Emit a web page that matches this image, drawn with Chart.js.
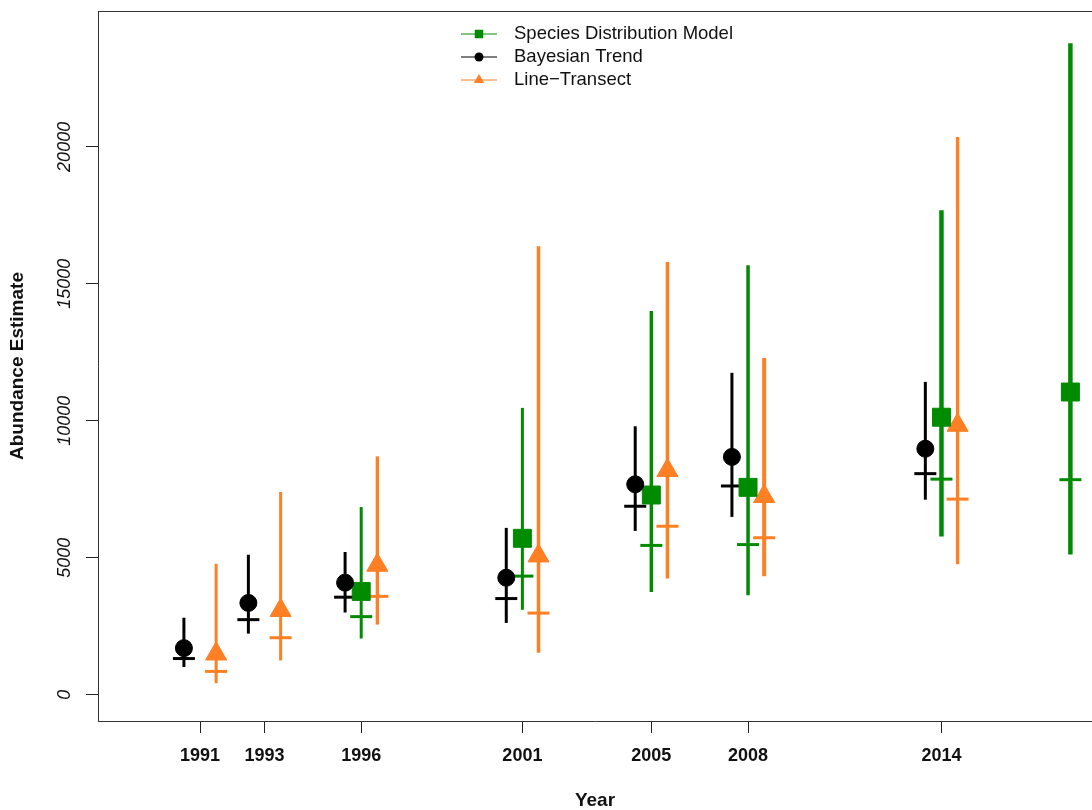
<!DOCTYPE html>
<html>
<head>
<meta charset="utf-8">
<script src="https://cdn.jsdelivr.net/npm/chart.js@4.4.0/dist/chart.umd.min.js"></script>
<style>
  html, body { margin: 0; padding: 0; background: #fff; }
  #wrap { width: 1092px; height: 810px; }
</style>
</head>
<body>
<div id="wrap"><canvas id="abundanceChart" width="1092" height="810"></canvas></div>
<script>
// values
const seriesNames = ["Species Distribution Model", "Bayesian Trend", "Line\u2212Transect"];
const xTickYears = [1991, 1993, 1996, 2001, 2005, 2008, 2014];
const yTickValues = [0, 5000, 10000, 15000, 20000];

const btYears = [1991, 1993, 1996, 2001, 2005, 2008, 2014];
const btMean = [1700, 3350, 4090, 4270, 7680, 8680, 8980];
const btMedian = [1320, 2740, 3560, 3510, 6880, 7620, 8070];
const btLower = [1010, 2230, 3000, 2620, 5980, 6490, 7120];
const btUpper = [2810, 5110, 5210, 6090, 9800, 11750, 11420];

const sdmYears = [1996, 2001, 2005, 2008, 2014, 2018];
const sdmMean = [3770, 5710, 7290, 7570, 10130, 11050];
const sdmMedian = [2850, 4330, 5450, 5480, 7870, 7850];
const sdmLower = [2050, 3100, 3750, 3630, 5780, 5120];
const sdmUpper = [6850, 10470, 14010, 15680, 17690, 23780];

const ltYears = [1991, 1993, 1996, 2001, 2005, 2008, 2014];
const ltMean = [1490, 3080, 4730, 5070, 8190, 7240, 9840];
const ltMedian = [850, 2080, 3590, 2980, 6150, 5730, 7140];
const ltLower = [420, 1250, 2560, 1530, 4240, 4320, 4760];
const ltUpper = [4780, 7400, 8700, 16370, 15800, 12290, 20360];

// styling
const GREEN = "#008B00";
const BLACK = "#000000";
const ORANGE = "#FF7F24";
const FONT = "'Liberation Sans', Arial, sans-serif";
const btWidths = [3, 3, 3, 3, 3, 3, 3];
const sdmWidths = [3, 3, 3.5, 3.5, 4.5, 4.5];
const ltWidths = [3, 3, 3.3, 3.5, 3.5, 4, 3.3];

function barPoints(xs, lo, hi, shift) {
  const pts = [];
  for (let i = 0; i < xs.length; i++) {
    pts.push({ x: xs[i] + shift, y: lo[i] });
    pts.push({ x: xs[i] + shift, y: hi[i] });
    pts.push({ x: xs[i] + shift, y: null });
  }
  return pts;
}

function pointsOf(xs, ys, shift) {
  return xs.map((x, i) => ({ x: x + shift, y: ys[i] }));
}

function barDataset(xs, lo, hi, shift, color, widths) {
  return {
    type: "line",
    data: barPoints(xs, lo, hi, shift),
    borderColor: color,
    borderWidth: 3,
    pointRadius: 0,
    showLine: true,
    spanGaps: false,
    order: 3,
    segment: {
      borderWidth: (ctx) => widths[Math.floor(ctx.p0DataIndex / 3)],
    },
  };
}

function medianDataset(xs, ys, shift, color) {
  return {
    data: pointsOf(xs, ys, shift),
    pointStyle: "line",
    pointRadius: 11,
    pointBorderWidth: 3,
    pointBorderColor: color,
    pointBackgroundColor: color,
    order: 2,
  };
}

function meanDataset(xs, ys, shift, color, style, radius) {
  return {
    data: pointsOf(xs, ys, shift),
    pointStyle: style,
    pointRadius: radius,
    pointBorderWidth: 1,
    pointBorderColor: color,
    pointBackgroundColor: color,
    order: 1,
  };
}

const frame = {
  id: "frame",
  afterDraw(chart) {
    const ctx = chart.ctx;
    const area = chart.chartArea;
    const yScale = chart.scales.y;
    ctx.save();
    // top border of the plot box
    ctx.strokeStyle = "#333";
    ctx.lineWidth = 1;
    ctx.beginPath();
    ctx.moveTo(area.left, area.top + 0.5);
    ctx.lineTo(area.right, area.top + 0.5);
    ctx.stroke();
    // rotated italic y tick labels
    ctx.fillStyle = "#111";
    ctx.font = "italic 18px " + FONT;
    ctx.textAlign = "center";
    ctx.textBaseline = "middle";
    for (const t of yScale.ticks) {
      const py = yScale.getPixelForValue(t.value);
      ctx.save();
      ctx.translate(65, py);
      ctx.rotate(-Math.PI / 2);
      ctx.fillText(String(t.value), 0, 0);
      ctx.restore();
    }
    // legend
    const colors = [GREEN, BLACK, ORANGE];
    const styles = ["rect", "circle", "triangle"];
    const rows = [34, 57, 80];
    ctx.font = "18.5px " + FONT;
    ctx.textAlign = "left";
    for (let i = 0; i < seriesNames.length; i++) {
      const y = rows[i];
      ctx.strokeStyle = colors[i];
      ctx.fillStyle = colors[i];
      ctx.lineWidth = 1;
      ctx.beginPath();
      ctx.moveTo(461, y);
      ctx.lineTo(497, y);
      ctx.stroke();
      Chart.helpers.drawPoint(ctx, { pointStyle: styles[i], radius: styles[i] === "circle" ? 4.5 : 6, borderWidth: 0, rotation: 0 }, 479, y);
      ctx.fillStyle = "#111";
      ctx.fillText(seriesNames[i], 514, y);
    }
    ctx.restore();
  },
};

new Chart(document.getElementById("abundanceChart"), {
  type: "scatter",
  data: {
    datasets: [
      barDataset(btYears, btLower, btUpper, -0.5, BLACK, btWidths),
      barDataset(sdmYears, sdmLower, sdmUpper, 0, GREEN, sdmWidths),
      barDataset(ltYears, ltLower, ltUpper, 0.5, ORANGE, ltWidths),
      medianDataset(btYears, btMedian, -0.5, BLACK),
      medianDataset(sdmYears, sdmMedian, 0, GREEN),
      medianDataset(ltYears, ltMedian, 0.5, ORANGE),
      meanDataset(btYears, btMean, -0.5, BLACK, "circle", 8.5),
      meanDataset(sdmYears, sdmMean, 0, GREEN, "rect", 12.7),
      meanDataset(ltYears, ltMean, 0.5, ORANGE, "triangle", 12.2),
    ],
  },
  plugins: [frame],
  options: {
    responsive: false,
    animation: false,
    devicePixelRatio: 1,
    layout: { autoPadding: false, padding: { top: 11, right: 0, left: 0, bottom: 0 } },
    plugins: {
      legend: { display: false },
      tooltip: { enabled: false },
    },
    scales: {
      x: {
        type: "linear",
        min: 1987.835,
        max: 2018.67,
        afterBuildTicks: (scale) => {
          scale.ticks = xTickYears.map((v) => ({ value: v }));
        },
        afterFit: (scale) => {
          scale.height = 89;
        },
        grid: { drawOnChartArea: false, drawTicks: true, tickLength: 12, tickColor: "#222", tickWidth: 1 },
        border: { display: true, color: "#333", width: 1 },
        ticks: {
          autoSkip: false,
          maxRotation: 0,
          padding: 12,
          color: "#111",
          font: { family: FONT, size: 18, weight: "bold" },
          callback: (v) => String(v),
        },
        title: {
          display: true,
          text: "Year",
          color: "#111",
          padding: { top: 0, bottom: 0 },
          font: { family: FONT, size: 19, weight: "bold", lineHeight: 1 },
        },
      },
      y: {
        min: -960,
        max: 24960,
        afterBuildTicks: (scale) => {
          scale.ticks = yTickValues.map((v) => ({ value: v }));
        },
        afterFit: (scale) => {
          scale.width = 98;
        },
        grid: { drawOnChartArea: false, drawTicks: true, tickLength: 12, tickColor: "#222", tickWidth: 1 },
        border: { display: true, color: "#333", width: 1 },
        ticks: { display: false },
        title: {
          display: true,
          text: "Abundance Estimate",
          color: "#111",
          padding: { top: 8.5, bottom: 0 },
          font: { family: FONT, size: 19, weight: "bold", lineHeight: 1 },
        },
      },
    },
  },
});
</script>
</body>
</html>
